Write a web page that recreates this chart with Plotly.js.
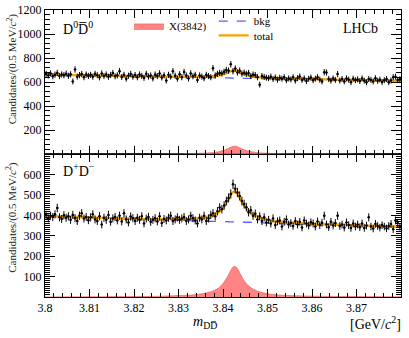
<!DOCTYPE html>
<html>
<head>
<meta charset="utf-8">
<script src="https://cdn.plot.ly/plotly-3.0.1.min.js"></script>
<style>html,body{margin:0;padding:0;background:#fff;}#chart{width:409px;height:338px;}</style>
</head>
<body>
<div id="chart"></div>
<script>
// Histogram binning (0.5 MeV bins from 3.800 to 3.880 GeV)
const binLow = 3.800;
const binWidth = 0.0005;

// D0 D0bar candidates per bin (top panel)
const topCounts = [
  668, 655, 672, 648, 661, 676, 650, 663, 657, 670,
  652, 664, 605, 705, 645, 658, 667, 640, 662, 651,
  660, 645, 668, 657, 639, 672, 650, 663, 644, 659,
  675, 648, 656, 690, 642, 660, 628, 653, 667, 645,
  658, 640, 663, 651, 635, 668, 646, 655, 630, 662,
  650, 672, 638, 656, 612, 660, 645, 690, 652, 628,
  665, 640, 683, 654, 630, 672, 648, 660, 618, 655,
  645, 632, 660, 650, 640, 715, 655, 668, 676, 672,
  685, 700, 695, 748, 690, 712, 680, 695, 670, 678,
  668, 675, 650, 662, 658, 640, 578, 650, 642, 636,
  632, 645, 625, 638, 620, 635, 628, 640, 615, 630,
  622, 640, 612, 633, 646, 618, 630, 608, 628, 637,
  615, 628, 640, 620, 605, 682, 679, 625, 612, 630,
  618, 666, 612, 625, 605, 630, 620, 598, 628, 615,
  622, 608, 630, 612, 598, 625, 618, 605, 632, 610,
  620, 600, 615, 625, 598, 612, 640, 645, 618, 623
];

// D+ D- candidates per bin (bottom panel)
const botCounts = [
  402, 385, 398, 392, 405, 436, 390, 382, 400, 388,
  395, 378, 402, 386, 372, 398, 410, 384, 392, 376,
  390, 405, 380, 372, 396, 355, 388, 378, 402, 368,
  385, 392, 375, 398, 370, 410, 380, 365, 394, 386,
  372, 388, 378, 395, 360, 384, 392, 368, 378, 386,
  370, 395, 362, 382, 375, 388, 398, 372, 380, 390,
  378, 385, 392, 372, 380, 398, 386, 375, 360, 388,
  380, 398, 372, 385, 402, 410, 395, 420, 438, 430,
  448, 470, 485, 505, 552, 530, 512, 495, 470, 455,
  440, 415, 425, 398, 408, 380, 395, 372, 390, 365,
  378, 360, 385, 352, 370, 375, 345, 368, 380, 355,
  362, 348, 372, 355, 368, 340, 375, 360, 350, 366,
  360, 345, 370, 352, 364, 398, 355, 342, 368, 350,
  362, 398, 348, 355, 340, 365, 352, 338, 360, 345,
  355, 342, 360, 338, 350, 390, 345, 335, 358, 348,
  340, 352, 345, 336, 348, 358, 332, 375, 362, 344
];

// Fit curves, read at these masses (GeV)
const fitMass = [3.800, 3.810, 3.820, 3.825, 3.830, 3.833, 3.835, 3.837, 3.838, 3.839,
                 3.840, 3.841, 3.8415, 3.842, 3.8426, 3.843, 3.8435, 3.844, 3.845, 3.846,
                 3.847, 3.848, 3.850, 3.852, 3.855, 3.860, 3.870, 3.880];
const topSig = [0.2, 0.4, 1, 1.3, 3, 4.4, 6.6, 10.5, 14, 19,
                29, 44, 53, 62, 66, 65, 57, 47.5, 32, 22,
                16, 12, 7, 5, 3, 2, 1, 0.5];
const topBkg = [662, 655, 648, 645, 641, 639, 638, 637, 636, 635,
                635, 634, 634, 633, 633, 633, 632, 632, 631, 630,
                630, 629, 628, 627, 625, 622, 616, 609];
const botSig = [0.5, 1, 2, 3, 7, 10, 15, 24, 32, 44,
                66, 100, 120, 140, 150, 147, 130, 108, 72, 50,
                36, 27, 16, 11, 7, 4, 2, 1];
const botBkg = [396, 388, 381, 378, 375, 373, 372, 371, 370, 370,
                369, 369, 368, 368, 368, 367, 367, 367, 366, 366,
                365, 365, 362, 360, 358, 355, 349, 343];

const binCenters = topCounts.map((_, i) => binLow + (i + 0.5) * binWidth);
const sqrtErr = arr => arr.map(v => Math.sqrt(v));
const topTot = topBkg.map((b, i) => b + topSig[i]);
const botTot = botBkg.map((b, i) => b + botSig[i]);

const serif = 'Liberation Serif, Times New Roman, serif';
const sigFill = 'rgba(255,110,110,0.85)';
const bkgCol = '#5b5bff';
const totCol = '#ff9f00';

function panelTraces(xa, ya, sig, bkg, tot, counts, showLeg) {
  return [
    {x: fitMass, y: sig, xaxis: xa, yaxis: ya, type: 'scatter', mode: 'lines',
     fill: 'tozeroy', fillcolor: sigFill, line: {color: '#e85050', width: 0.6, shape: 'spline'},
     name: 'X(3842)', legend: 'legend', showlegend: showLeg, hoverinfo: 'skip'},
    {x: fitMass, y: bkg, xaxis: xa, yaxis: ya, type: 'scatter', mode: 'lines',
     line: {color: bkgCol, width: 1.3, dash: 'dash', shape: 'spline'},
     name: 'bkg', legend: 'legend2', showlegend: showLeg},
    {x: fitMass, y: tot, xaxis: xa, yaxis: ya, type: 'scatter', mode: 'lines',
     line: {color: totCol, width: 2.4, shape: 'spline'},
     name: 'total', legend: 'legend3', showlegend: showLeg},
    {x: binCenters, y: counts, xaxis: xa, yaxis: ya, type: 'scatter', mode: 'markers',
     marker: {color: '#000', size: 2.5},
     error_y: {type: 'data', array: sqrtErr(counts), color: '#000', thickness: 1, width: 0},
     error_x: {type: 'constant', value: binWidth / 2, color: '#000', thickness: 1, width: 0},
     showlegend: false}
  ];
}

const data = [
  ...panelTraces('x2', 'y2', topSig, topBkg, topTot, topCounts, true),
  ...panelTraces('x', 'y', botSig, botBkg, botTot, botCounts, false)
];

const xTicks = [3.80, 3.81, 3.82, 3.83, 3.84, 3.85, 3.86, 3.87];
const xTickText = ['3.8', '3.81', '3.82', '3.83', '3.84', '3.85', '3.86', '3.87'];
const topYTicks = [200, 400, 600, 800, 1000, 1200];
const botYTicks = [100, 200, 300, 400, 500, 600];

const axCommon = {
  showline: true, linecolor: '#000', linewidth: 1, mirror: 'allticks',
  ticks: 'inside', tickcolor: '#000', tickwidth: 1, showgrid: false, zeroline: false,
  tickfont: {family: serif, size: 12, color: '#000'}
};

const legFont = {family: serif, size: 11, color: '#000'};

const layout = {
  width: 409, height: 338,
  margin: {l: 45, r: 8, t: 7, b: 41},
  paper_bgcolor: '#fff', plot_bgcolor: '#fff',
  font: {family: serif, color: '#000'},
  xaxis: Object.assign({}, axCommon, {anchor: 'y', domain: [0, 1], range: [3.80, 3.88],
    tickvals: xTicks, ticktext: xTickText, ticklen: 8,
    minor: {dtick: 0.002, tick0: 3.80, ticklen: 4, ticks: 'inside', tickcolor: '#000', showgrid: false}}),
  xaxis2: Object.assign({}, axCommon, {anchor: 'y2', matches: 'x', domain: [0, 1], range: [3.80, 3.88],
    tickvals: xTicks, showticklabels: false, ticklen: 8,
    minor: {dtick: 0.002, tick0: 3.80, ticklen: 4, ticks: 'inside', tickcolor: '#000', showgrid: false}}),
  yaxis: Object.assign({}, axCommon, {anchor: 'x', domain: [0, 0.498], range: [0, 700],
    tickvals: botYTicks, ticklen: 10,
    minor: {dtick: 10, tick0: 0, ticklen: 5, ticks: 'inside', tickcolor: '#000', showgrid: false}}),
  yaxis2: Object.assign({}, axCommon, {anchor: 'x2', domain: [0.498, 1], range: [0, 1200],
    tickvals: topYTicks, ticklen: 10,
    minor: {dtick: 40, tick0: 0, ticklen: 5, ticks: 'inside', tickcolor: '#000', showgrid: false}}),
  legend: {x: 0.236, y: 0.995, xanchor: 'left', yanchor: 'top', bgcolor: 'rgba(0,0,0,0)',
    font: legFont, itemwidth: 30},
  legend2: {x: 0.474, y: 1.012, xanchor: 'left', yanchor: 'top', bgcolor: 'rgba(0,0,0,0)',
    font: legFont, itemwidth: 30},
  legend3: {x: 0.474, y: 0.962, xanchor: 'left', yanchor: 'top', bgcolor: 'rgba(0,0,0,0)',
    font: legFont, itemwidth: 30},
  annotations: [
    {text: 'LHCb', xref: 'paper', yref: 'paper', x: 0.885, y: 0.934, showarrow: false,
     xanchor: 'center', yanchor: 'middle', font: {family: serif, size: 14}},
    {text: 'D<sup>0</sup>D\u0305<sup>0</sup>', xref: 'paper', yref: 'paper', x: 0.045, y: 0.938, showarrow: false,
     xanchor: 'left', yanchor: 'middle', font: {family: serif, size: 14}},
    {text: 'D<sup>+</sup>D<sup>\u2212</sup>', xref: 'paper', yref: 'paper', x: 0.045, y: 0.441, showarrow: false,
     xanchor: 'left', yanchor: 'middle', font: {family: serif, size: 14}},
    {text: 'Candidates/(0.5 MeV/<i>c</i><sup>2</sup>)', xref: 'paper', yref: 'paper', x: -0.093, y: 0.7966,
     textangle: -90, showarrow: false, xanchor: 'center', yanchor: 'middle', font: {family: serif, size: 11, color: '#222'}},
    {text: 'Candidates/(0.5 MeV/<i>c</i><sup>2</sup>)', xref: 'paper', yref: 'paper', x: -0.093, y: 0.2793,
     textangle: -90, showarrow: false, xanchor: 'center', yanchor: 'middle', font: {family: serif, size: 11, color: '#222'}},
    {text: '<i>m</i><sub>DD\u0305</sub>', xref: 'paper', yref: 'paper', x: 0.449, y: -0.09, showarrow: false,
     xanchor: 'center', yanchor: 'middle', font: {family: serif, size: 14}},
    {text: '[GeV/<i>c</i><sup>2</sup>]', xref: 'paper', yref: 'paper', x: 1.005, y: -0.09, showarrow: false,
     xanchor: 'right', yanchor: 'middle', font: {family: serif, size: 14}}
  ]
};

Plotly.newPlot('chart', data, layout, {displayModeBar: false, staticPlot: true});
</script>
</body>
</html>
